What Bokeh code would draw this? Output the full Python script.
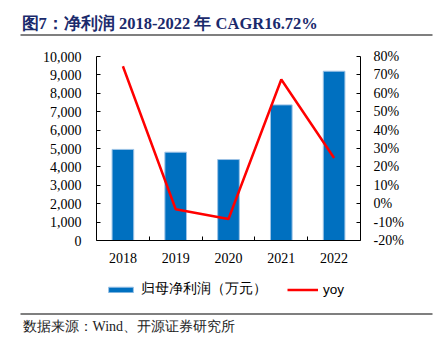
from bokeh.plotting import figure
from bokeh.models import (Range1d, LinearAxis, FixedTicker, NumeralTickFormatter,
                          PrintfTickFormatter, CustomJSTickFormatter, Legend, LegendItem,
                          ColumnDataSource)
from bokeh.core.properties import value
from bokeh.embed import file_html
from bokeh.resources import INLINE

# ---------------- data ----------------
years = ["2018", "2019", "2020", "2021", "2022"]
net_profit = [4950, 4800, 4400, 7370, 9200]      # 归母净利润（万元）
yoy = [74.7, -3.0, -8.3, 67.5, 24.8]             # %
left_ticks = [0, 1000, 2000, 3000, 4000, 5000, 6000, 7000, 8000, 9000, 10000]
right_ticks = [-20, -10, 0, 10, 20, 30, 40, 50, 60, 70, 80]
title_text = "图7：净利润 2018-2022 年 CAGR16.72%"
bar_label = "归母净利润（万元）"
line_label = "yoy"
source_text = "数据来源：Wind、开源证券研究所"

W = 440
HEAD_H = 40
MAIN_H = 230
FOOT_H = 345 - HEAD_H - MAIN_H
SERIF = value("Liberation Serif")
BAR_STYLE = dict(fill_color="#0070C0", line_color="#9DC3E6", line_width=1)
LINE_STYLE = dict(line_color="#FF0000", line_width=2.5)

# ---------------- header ----------------
h = figure(width=W, height=HEAD_H, x_range=Range1d(0, W), y_range=Range1d(HEAD_H, 0),
           output_backend="svg", toolbar_location=None, min_border=0,
           x_axis_type=None, y_axis_type=None, outline_line_color=None)
h.title = None
h.grid.visible = False
h.text(x=[21], y=[23], text=[title_text], text_font=SERIF, text_font_style="bold",
       text_font_size="16.5px", text_color="#1a2a6c", text_baseline="middle", text_align="left")
h.segment(x0=[20], y0=[34.5], x1=[432], y1=[34.5], line_color="#555555", line_width=1.5)

# ---------------- main chart ----------------
xs = list(range(1, len(years) + 1))
src = ColumnDataSource(dict(x=xs, year=years, profit=net_profit, yoy=yoy))

p = figure(width=W, height=MAIN_H, x_range=Range1d(0.5, len(years) + 0.5),
           y_range=Range1d(left_ticks[0], left_ticks[-1]),
           output_backend="svg", toolbar_location=None,
           min_border_left=96, min_border_right=80, min_border_top=16,
           min_border_bottom=MAIN_H - 16 - 184,
           outline_line_color=None)
p.title = None
p.xgrid.visible = False
p.ygrid.visible = False
p.extra_y_ranges = {"yoy": Range1d(right_ticks[0], right_ticks[-1])}

p.vbar(x="x", top="profit", width=0.41, source=src, **BAR_STYLE)
p.line(x="x", y="yoy", source=src, y_range_name="yoy", **LINE_STYLE)

# x axis
xa = p.xaxis[0]
xa.ticker = FixedTicker(ticks=xs, minor_ticks=[x + 0.5 for x in xs[:-1]])
xa.formatter = CustomJSTickFormatter(args=dict(labels=years),
                                     code="return labels[Math.round(tick) - 1] || '';")
xa.major_tick_line_color = None
xa.minor_tick_in = 4
xa.minor_tick_out = 0
xa.minor_tick_line_color = "black"
xa.axis_line_color = "black"
xa.major_label_standoff = 6

# left axis
ya = p.yaxis[0]
ya.ticker = FixedTicker(ticks=left_ticks)
ya.formatter = NumeralTickFormatter(format="0,0")
ya.major_tick_in = 4
ya.major_tick_out = 0
ya.minor_tick_line_color = None
ya.axis_line_color = "black"
ya.major_label_standoff = 15

# right axis
ra = LinearAxis(y_range_name="yoy", ticker=FixedTicker(ticks=right_ticks),
                formatter=PrintfTickFormatter(format="%d%%"))
ra.major_tick_in = 4
ra.major_tick_out = 0
ra.minor_tick_line_color = None
ra.axis_line_color = "black"
ra.major_label_standoff = 13
p.add_layout(ra, "right")

for ax in (xa, ya, ra):
    ax.major_label_text_font = "Liberation Serif"
    ax.major_label_text_font_size = "14px"
    ax.major_label_text_color = "#000000"

# ---------------- footer (legend + source) ----------------
y0 = HEAD_H + MAIN_H
f = figure(width=W, height=FOOT_H, x_range=Range1d(0, W), y_range=Range1d(345, y0),
           output_backend="svg", toolbar_location=None, min_border=0,
           x_axis_type=None, y_axis_type=None, outline_line_color=None)
f.title = None
f.grid.visible = False
# legend key renderers (a single NaN point: nothing drawn, only the legend key)
nan = float("nan")
key_src = ColumnDataSource(dict(x=[nan], top=[nan], y=[nan]))
kb = f.vbar(x="x", top="top", width=1, source=key_src, **BAR_STYLE)
kl = f.line(x="x", y="y", source=key_src, **LINE_STYLE)
legend = Legend(items=[LegendItem(label=bar_label, renderers=[kb]),
                       LegendItem(label=line_label, renderers=[kl])],
                orientation="horizontal", location=(105, 345 - 298), padding=0, margin=0,
                spacing=20, label_standoff=5, glyph_width=31, glyph_height=7,
                border_line_color=None, background_fill_alpha=0,
                label_text_font="Liberation Sans", label_text_font_size="13.5px",
                label_text_color="#000000")
f.add_layout(legend, "center")
f.segment(x0=[20], y0=[313.5], x1=[432], y1=[313.5], line_color="#555555", line_width=1.5)
f.text(x=[22], y=[326], text=[source_text], text_font=SERIF, text_font_size="14px",
       text_color="#222222", text_baseline="middle", text_align="left")

open("out.html", "w").write(file_html([h, p, f], INLINE))
